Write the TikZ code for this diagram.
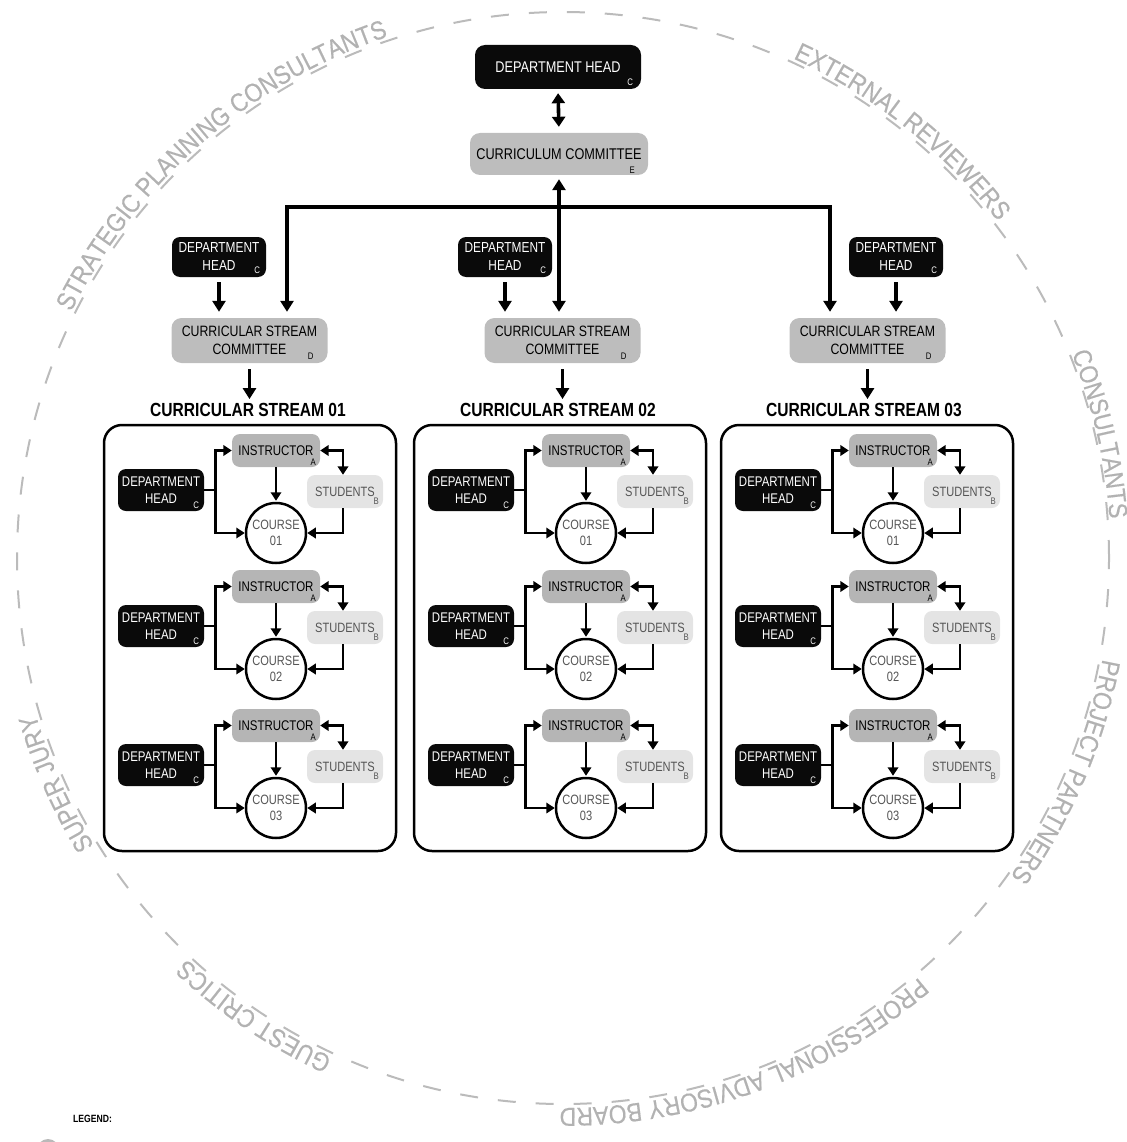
\documentclass[tikz,border=0pt]{standalone}
\usepackage{fontspec}
\setmainfont[FakeStretch=0.82]{Liberation Sans}
\newfontfamily\circfont[FakeStretch=0.88,FakeBold=0.4]{Liberation Sans}
\usetikzlibrary{arrows.meta,decorations.text,calc}
\definecolor{dhblack}{HTML}{0A0A0A}
\definecolor{ccgray}{HTML}{BDBDBD}
\definecolor{insgray}{HTML}{B5B5B5}
\definecolor{stugray}{HTML}{E4E4E4}
\definecolor{circgray}{HTML}{BBBBBB}
\definecolor{circtext}{HTML}{B2B2B2}
\definecolor{txtgray}{HTML}{555555}
\newcommand\ctext{\circfont\fontsize{26}{26}\selectfont\color{circtext}}
\begin{document}
\begin{tikzpicture}[x=1pt,y=1pt,
  topblack/.style={fill=dhblack, text=white, rounded corners=10pt, inner sep=0pt, align=center,
    minimum width=166pt, minimum height=44pt, font=\fontsize{15.5}{18}\selectfont},
  topgray/.style={fill=ccgray, rounded corners=10pt, inner sep=0pt, align=center,
    minimum width=178pt, minimum height=42pt, font=\fontsize{15.5}{18}\selectfont},
  smallblack/.style={fill=dhblack, text=white, rounded corners=8pt, inner sep=0pt, align=center,
    minimum width=94pt, minimum height=40pt, font=\fontsize{14.5}{18}\selectfont},
  cscbox/.style={fill=ccgray, rounded corners=10pt, inner sep=0pt, align=center,
    minimum width=156pt, minimum height=45pt, font=\fontsize{15}{18}\selectfont},
  sttitle/.style={font=\bfseries\fontsize{19}{20}\selectfont, inner sep=1pt},
  sbox/.style={draw, line width=2.5pt, rounded corners=18pt, minimum width=292pt, minimum height=426pt},
  dhs/.style={fill=dhblack, text=white, rounded corners=8pt, inner sep=0pt, align=center,
    minimum width=86pt, minimum height=42pt, font=\fontsize{14}{17.5}\selectfont},
  insbox/.style={fill=insgray, rounded corners=8pt, inner sep=0pt, minimum width=88pt, minimum height=33pt,
    font=\fontsize{14}{16}\selectfont},
  stubox/.style={fill=stugray, text=txtgray, rounded corners=8pt, inner sep=0pt, minimum width=76pt,
    minimum height=33pt, font=\fontsize{13.5}{16}\selectfont},
  crs/.style={circle, draw, line width=2.5pt, fill=white, minimum size=60pt, inner sep=0pt, align=center,
    text=txtgray, font=\fontsize{13.5}{16}\selectfont},
  sub/.style={inner sep=0pt, font=\fontsize{9.5}{9.5}\selectfont},
  bigarr/.style={line width=3.6pt, -{Triangle[length=11pt,width=13pt]}},
  arr/.style={line width=2.9pt, -{Triangle[length=8.5pt,width=10.5pt]}},
  circ/.style={draw=circgray, line width=2pt, dash pattern=on 18pt off 20pt}
]
\useasboundingbox (0,0) rectangle (1126,-1142);

% outer dashed circle and its labels
\coordinate (cen) at (563,-558);
\draw[circ] (cen) circle[radius=546pt];
\path[decorate, decoration={text along path, text align=center, text={|\ctext|STRATEGIC PLANNING CONSULTANTS}}]
  (cen) ++(163:550pt) arc[start angle=163, end angle=99, radius=550pt];
\path[decorate, decoration={text along path, text align=center, text={|\ctext|EXTERNAL REVIEWERS}}]
  (cen) ++(78:550pt) arc[start angle=78, end angle=25, radius=550pt];
\path[decorate, decoration={text along path, text align=center, text={|\ctext|CONSULTANTS}}]
  (cen) ++(30:548pt) arc[start angle=30, end angle=-4, radius=548pt];
\path[decorate, decoration={text along path, text align=center, text={|\ctext|PROJECT PARTNERS}}]
  (cen) ++(2:549pt) arc[start angle=2, end angle=-48, radius=549pt];
\path[decorate, decoration={text along path, text align=center, text={|\ctext|PROFESSIONAL ADVISORY BOARD}}]
  (cen) ++(-40:550pt) arc[start angle=-40, end angle=-100, radius=550pt];
\path[decorate, decoration={text along path, text align=center, text={|\ctext|GUEST CRITICS}}]
  (cen) ++(250:550pt) arc[start angle=250, end angle=222, radius=550pt];
\path[decorate, decoration={text along path, text align=center, text={|\ctext|SUPER JURY}}]
  (cen) ++(218:550pt) arc[start angle=218, end angle=190, radius=550pt];

% top
\node[topblack] (dhtop) at (558,-67) {DEPARTMENT HEAD};
\node[sub, text=white] (dhtopc) at ([shift={(-11,7)}]dhtop.south east) {C};
\node[topgray] (cc) at (559,-154) {CURRICULUM COMMITTEE};
\node[sub] (cce) at ([shift={(-16,5)}]cc.south east) {E};
\draw[line width=3.6pt, {Triangle[length=10pt,width=13pt]}-{Triangle[length=10pt,width=13pt]}, shorten <=4pt, shorten >=6pt]
  (dhtop.south) -- (cc.north);

% stream committees
\node[smallblack] (dh1) at (219,-257) {DEPARTMENT\\HEAD};
\node[smallblack] (dh2) at (505,-257) {DEPARTMENT\\HEAD};
\node[smallblack] (dh3) at (896,-257) {DEPARTMENT\\HEAD};
\foreach \i in {1,2,3} {
  \node[sub, text=white] (dh\i c) at ([shift={(-9,7)}]dh\i.south east) {C};
}
\node[cscbox] (csc1) at (249.5,-340.5) {CURRICULAR STREAM\\COMMITTEE};
\node[cscbox] (csc2) at (562.5,-340.5) {CURRICULAR STREAM\\COMMITTEE};
\node[cscbox] (csc3) at (867.5,-340.5) {CURRICULAR STREAM\\COMMITTEE};
\foreach \i in {1,2,3} {
  \node[sub] (csc\i d) at ([shift={(-17,7)}]csc\i.south east) {D};
  \draw[bigarr, shorten <=5pt, shorten >=6pt] (dh\i.south) -- (dh\i.south |- csc\i.north);
}
\node[sttitle] (st1) at (248,-410) {CURRICULAR STREAM 01};
\node[sttitle] (st2) at (558,-410) {CURRICULAR STREAM 02};
\node[sttitle] (st3) at (864,-410) {CURRICULAR STREAM 03};
\draw[bigarr, shorten <=6pt, shorten >=3pt] (csc1.south) -- (csc1.south |- st1.north);
\draw[bigarr, shorten <=6pt, shorten >=3pt] (csc2.south) -- (csc2.south |- st2.north);
\draw[bigarr, shorten <=6pt, shorten >=3pt] (csc3.south) -- (csc3.south |- st3.north);

\coordinate (jn) at (560,-207);
\draw[bigarr, shorten >=6pt] (jn) -| ([xshift=37.5pt]csc1.north);
\draw[bigarr, shorten >=6pt] (jn) -| ([xshift=-37.5pt]csc3.north);
\draw[line width=3.6pt, {Triangle[length=11pt,width=13pt]}-{Triangle[length=11pt,width=13pt]}, shorten <=4pt, shorten >=6pt]
  (cc.south) -- (cc.south |- csc2.north);

% stream boxes
\foreach \b/\bx in {1/0,2/310,3/617} {
  \node[sbox] (sb\b) at ({250+\bx},-638) {};
  \foreach \r/\ry/\num in {1/0/01,2/136/02,3/275/03} {
    \node[dhs] (dh\b\r) at ({161+\bx},{-490-\ry}) {DEPARTMENT\\HEAD};
    \node[sub, text=white] (dh\b\r c) at ([shift={(-8,6)}]dh\b\r.south east) {C};
    \node[insbox] (ins\b\r) at ({276+\bx},{-450.5-\ry}) {INSTRUCTOR};
    \node[sub] (ins\b\r a) at ([shift={(-7,5)}]ins\b\r.south east) {A};
    \node[stubox] (stu\b\r) at ({345+\bx},{-491.5-\ry}) {STUDENTS\hspace{6pt}};
    \node[sub, text=txtgray] (stu\b\r b) at ([shift={(-7,7)}]stu\b\r.south east) {B};
    \node[crs] (crs\b\r) at ({276+\bx},{-533-\ry}) {COURSE\\\num};
    \draw[arr] (dh\b\r.east) -- ++(11,0) |- (ins\b\r.west);
    \draw[arr] (dh\b\r.east) -- ++(11,0) |- (crs\b\r.west);
    \draw[arr, shorten >=1pt] (ins\b\r.south) -- (crs\b\r.north);
    \draw[line width=2.9pt, {Triangle[length=8.5pt,width=10.5pt]}-{Triangle[length=8.5pt,width=10.5pt]}]
      (ins\b\r.east) -| ([xshift=-2pt]stu\b\r.north);
    \draw[arr] ([xshift=-2pt]stu\b\r.south) |- (crs\b\r.east);
  }
}

% legend
\node[anchor=west, inner sep=0pt, font=\bfseries\fontsize{10.5}{10.5}\selectfont] (leg) at (73,-1119) {LEGEND:};
\node[circle, fill=gray!55, minimum size=22pt, inner sep=0pt] (legc) at (48,-1150) {};
\end{tikzpicture}
\end{document}
